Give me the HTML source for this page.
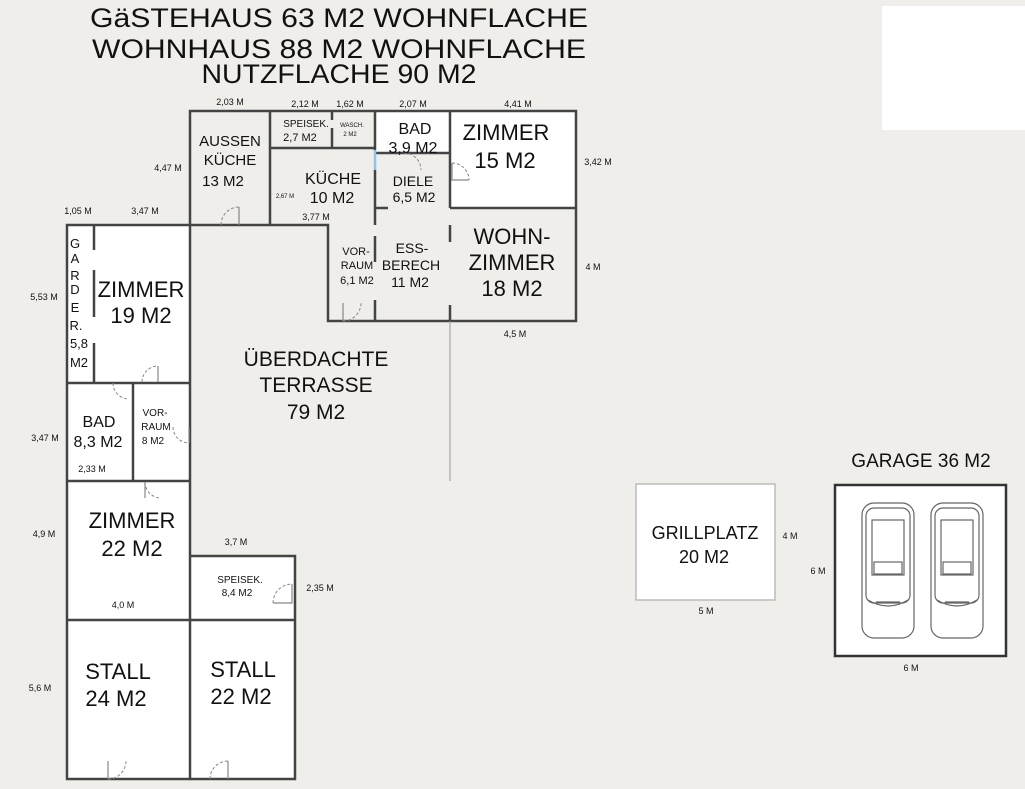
<!DOCTYPE html>
<html><head><meta charset="utf-8"><style>
html,body{margin:0;padding:0;background:#efeeeb;}
svg{display:block;}
text{font-family:"Liberation Sans",sans-serif;fill:#111;}
.d{font-size:9px;fill:#333;}
</style></head><body>
<svg width="1025" height="789" viewBox="0 0 1025 789" xmlns="http://www.w3.org/2000/svg">
<rect width="1025" height="789" fill="#efeeeb"/>
<rect x="882" y="6" width="143" height="124" fill="#fff"/>

<text x="339" y="27" font-size="27" text-anchor="middle" textLength="498" lengthAdjust="spacingAndGlyphs">GäSTEHAUS 63 M2 WOHNFLACHE</text>
<text x="339" y="58" font-size="27" text-anchor="middle" textLength="494" lengthAdjust="spacingAndGlyphs">WOHNHAUS 88 M2 WOHNFLACHE</text>
<text x="339" y="83" font-size="27" text-anchor="middle" textLength="275" lengthAdjust="spacingAndGlyphs">NUTZFLACHE 90 M2</text>

<g fill="#fff">
<rect x="375" y="111" width="75" height="42"/>
<rect x="450" y="111" width="126" height="97"/>
<rect x="67" y="225" width="123" height="158"/>
<rect x="67" y="383" width="123" height="98"/>
<rect x="67" y="481" width="123" height="139"/>
<rect x="190" y="556" width="105" height="64"/>
<rect x="67" y="620" width="228" height="159"/>
<rect x="636" y="484" width="139" height="116" stroke="#bbb" stroke-width="1.5"/>
<rect x="835" y="485" width="171" height="171" stroke="#333" stroke-width="2.5"/>
</g>

<g stroke="#444" stroke-width="2.5" fill="none">
<path d="M190 111 H576 V321 H328 V225 H190 Z"/>
<path d="M270 111 V225"/>
<path d="M270 148 H375"/>
<path d="M332 111 V120 M332 128 V148"/>
<path d="M375 111 V150 M375 170 V225"/>
<path d="M375 153 H450"/>
<path d="M375 208 H388"/>
<path d="M375 236 V262 M375 300 V321"/>
<path d="M450 111 V208 M450 225 V242 M450 305 V321"/>
<path d="M450 208 H576"/>
<path d="M67 225 H190 V779 H67 Z"/>
<path d="M94 225 V250 M94 270 V317 M94 343 V383"/>
<path d="M67 383 H190"/>
<path d="M133 383 V481"/>
<path d="M67 481 H190"/>
<path d="M67 620 H295"/>
<path d="M190 556 H295 V779 H190"/>
</g>
<path d="M375 150 V170" stroke="#8fc3e8" stroke-width="2.5"/>
<path d="M450 321 V481" stroke="#999" stroke-width="1"/>

<g stroke="#888" stroke-width="1" fill="none" stroke-dasharray="3 2">
<path d="M221 225 A18 18 0 0 1 239 207"/>
<path d="M343 321 A18 18 0 0 0 361 303"/>
<path d="M452 163 A17 17 0 0 1 469 180"/>
<path d="M404 153 A17 17 0 0 1 421 170"/>
<path d="M142 382 A16 16 0 0 1 158 366"/>
<path d="M113 383 A16 16 0 0 0 129 399"/>
<path d="M173 427 A16 16 0 0 0 189 443"/>
<path d="M145 482 A16 16 0 0 0 161 498"/>
<path d="M273 603 A19 19 0 0 1 292 584"/>
<path d="M108 779 A18 18 0 0 0 126 761"/>
<path d="M210 779 A18 18 0 0 1 228 761"/>
</g>
<g stroke="#888" stroke-width="1.2" fill="none">
<path d="M239 207 V225"/><path d="M343 303 V321"/><path d="M452 163 V180 H469"/>
<path d="M158 366 V382"/><path d="M189 427 V443"/><path d="M145 482 V498"/>
<path d="M292 584 V603 H273"/><path d="M108 761 V779"/><path d="M228 761 V779"/>
</g>

<g text-anchor="middle">
<text x="230" y="146" font-size="15">AUSSEN</text>
<text x="230" y="165" font-size="15">KÜCHE</text>
<text x="223" y="186" font-size="15">13 M2</text>
<text x="306" y="127" font-size="10">SPEISEK.</text>
<text x="300" y="141" font-size="11">2,7 M2</text>
<text x="352" y="127" font-size="6">WASCH.</text>
<text x="350" y="136" font-size="6">2 M2</text>
<text x="415" y="134" font-size="16">BAD</text>
<text x="413" y="153" font-size="16">3,9 M2</text>
<text x="506" y="140" font-size="22">ZIMMER</text>
<text x="505" y="168" font-size="22">15 M2</text>
<text x="333" y="184" font-size="16">KÜCHE</text>
<text x="332" y="203" font-size="16">10 M2</text>
<text x="285" y="198" font-size="6">2,67 M</text>
<text x="413" y="186" font-size="14">DIELE</text>
<text x="414" y="202" font-size="14">6,5 M2</text>
<text x="356" y="255" font-size="11">VOR-</text>
<text x="357" y="269" font-size="11">RAUM</text>
<text x="357" y="284" font-size="11">6,1 M2</text>
<text x="412" y="253" font-size="14">ESS-</text>
<text x="411" y="270" font-size="14">BERECH</text>
<text x="410" y="287" font-size="14">11 M2</text>
<text x="512" y="244" font-size="22">WOHN-</text>
<text x="512" y="270" font-size="22">ZIMMER</text>
<text x="512" y="296" font-size="22">18 M2</text>
<text x="141" y="297" font-size="22">ZIMMER</text>
<text x="141" y="323" font-size="22">19 M2</text>
<text x="316" y="366" font-size="21">ÜBERDACHTE</text>
<text x="316" y="392" font-size="21">TERRASSE</text>
<text x="316" y="419" font-size="21">79 M2</text>
<text x="99" y="427" font-size="16">BAD</text>
<text x="98" y="447" font-size="16">8,3 M2</text>
<text x="155" y="416" font-size="10">VOR-</text>
<text x="156" y="430" font-size="10">RAUM</text>
<text x="153" y="444" font-size="10">8 M2</text>
<text x="132" y="528" font-size="22">ZIMMER</text>
<text x="132" y="556" font-size="22">22 M2</text>
<text x="240" y="583" font-size="10">SPEISEK.</text>
<text x="237" y="596" font-size="10">8,4 M2</text>
<text x="118" y="679" font-size="22">STALL</text>
<text x="116" y="706" font-size="22">24 M2</text>
<text x="243" y="677" font-size="22">STALL</text>
<text x="241" y="704" font-size="22">22 M2</text>
<text x="705" y="539" font-size="18">GRILLPLATZ</text>
<text x="704" y="563" font-size="18">20 M2</text>
<text x="921" y="467" font-size="19">GARAGE 36 M2</text>
</g>
<g font-size="13" text-anchor="middle">
<text x="75" y="248">G</text><text x="75" y="263">A</text><text x="75" y="280">R</text>
<text x="75" y="294">D</text><text x="75" y="312">E</text><text x="76" y="330">R.</text>
<text x="79" y="348">5,8</text><text x="79" y="367">M2</text>
</g>

<g class="d" text-anchor="middle">
<text x="230" y="105">2,03 M</text>
<text x="305" y="107">2,12 M</text>
<text x="350" y="107">1,62 M</text>
<text x="413" y="107">2,07 M</text>
<text x="518" y="107">4,41 M</text>
<text x="598" y="165">3,42 M</text>
<text x="593" y="270">4 M</text>
<text x="515" y="337">4,5 M</text>
<text x="168" y="171">4,47 M</text>
<text x="316" y="220">3,77 M</text>
<text x="78" y="214">1,05 M</text>
<text x="145" y="214">3,47 M</text>
<text x="44" y="300">5,53 M</text>
<text x="45" y="441">3,47 M</text>
<text x="92" y="472">2,33 M</text>
<text x="44" y="537">4,9 M</text>
<text x="236" y="545">3,7 M</text>
<text x="123" y="608">4,0 M</text>
<text x="320" y="591">2,35 M</text>
<text x="40" y="691">5,6 M</text>
<text x="790" y="539">4 M</text>
<text x="706" y="614">5 M</text>
<text x="818" y="574">6 M</text>
<text x="911" y="671">6 M</text>
</g>

<g fill="#fff" stroke="#666" stroke-width="1.2">
<g id="car">
<rect x="862" y="503" width="52" height="135" rx="12"/>
<rect x="866" y="508" width="44" height="95" rx="8" fill="none"/>
<rect x="872" y="520" width="32" height="55" fill="none"/>
<rect x="874" y="562" width="28" height="12" fill="none"/>
<path d="M868 600 Q888 612 908 600" fill="none"/>
<path d="M876 602 H900" fill="none"/>
</g>
<use href="#car" x="69"/>
</g>
</svg>
</body></html>
